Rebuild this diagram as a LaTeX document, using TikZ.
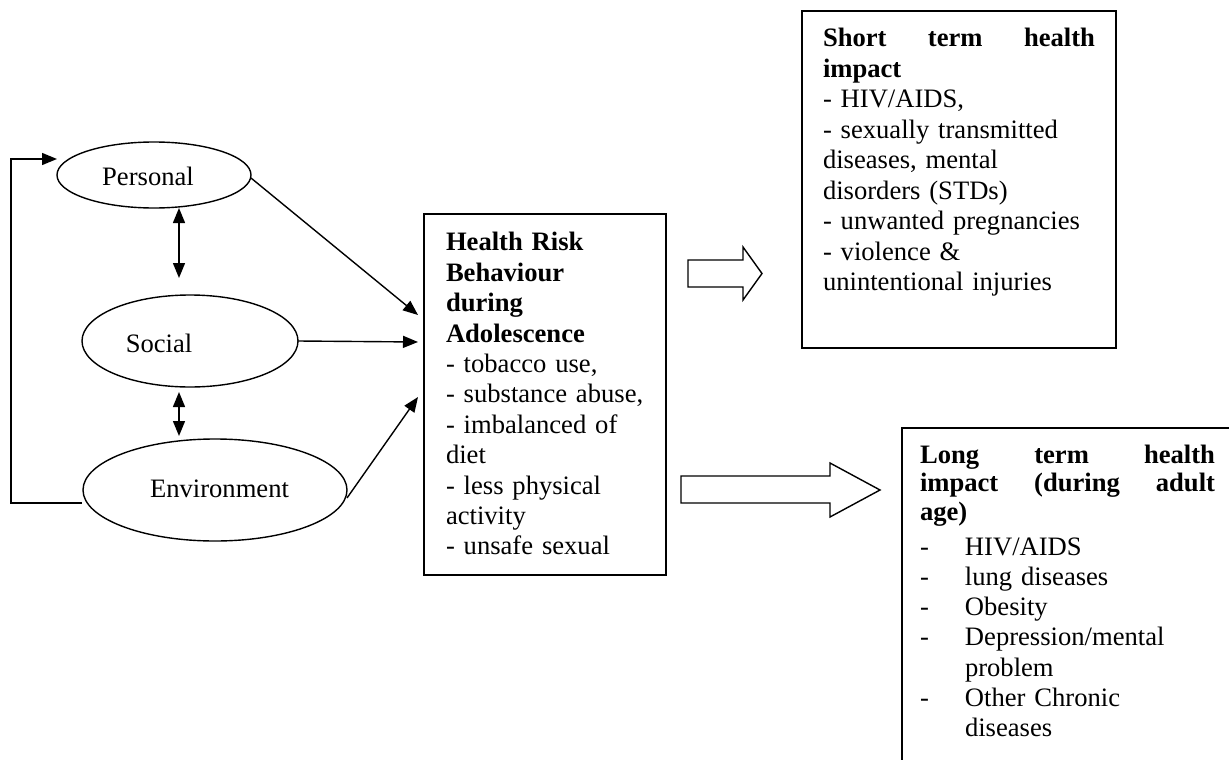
\documentclass[tikz,border=0pt]{standalone}
\usepackage{fontspec}
\setmainfont{Liberation Serif}
\usetikzlibrary{arrows.meta,shapes.geometric}
\begin{document}
\begin{tikzpicture}[x=1pt,y=-1pt,
  every node/.style={inner sep=0pt,outer sep=0pt},
  ell/.style={draw,ellipse,line width=1.4pt},
  box/.style={draw,rectangle,line width=1.4pt,anchor=north west},
  lbl/.style={font=\fontsize{26.6}{30.5}\selectfont},
  para/.style={anchor=north west,align=left,text width=#1},
  arr/.style={line width=1.4pt,-{Triangle[length=15pt,width=12pt]}},
  dbl/.style={line width=1.4pt,{Triangle[length=15pt,width=12pt]}-{Triangle[length=15pt,width=12pt]}},
  blockarrow/.style={draw,line width=1.4pt,fill=white}]
\clip (0,0) rectangle (1229,760);
\fill[white] (0,0) rectangle (1229,760);

% ellipses
\node[ell,minimum width=194pt,minimum height=66pt] (personal) at (154,175) {};
\node[ell,minimum width=216pt,minimum height=92pt] (social) at (190,341) {};
\node[ell,minimum width=264pt,minimum height=102pt] (env) at (215,490) {};
\node[lbl,anchor=base] (tpers) at (148,185) {Personal};
\node[lbl,anchor=base] (tsoc) at (159,352) {Social};
\node[lbl,anchor=base] (tenv) at (219.5,497) {Environment};

% boxes
\node[box,minimum width=242pt,minimum height=361pt] (hrb) at (424,214) {};
\node[box,minimum width=314pt,minimum height=337pt] (short) at (802,11) {};
\node[box,minimum width=340pt,minimum height=360pt] (long) at (902,428) {};

% box texts
\node[para=215pt,font=\fontsize{26.6}{30.4}\selectfont] (thrb) at (446,229.7) {\noindent\strut\textbf{Health Risk}\\
\textbf{Behaviour}\\
\textbf{during}\\
\textbf{Adolescence}\\
- tobacco use,\\
- substance abuse,\\
- imbalanced of\\
diet\\
- less physical\\
activity\\
- unsafe sexual};

\node[para=272pt,font=\fontsize{26.6}{30.5}\selectfont] (tshort) at (823,25.65) {\noindent\leavevmode\hbox to\hsize{\strut\bfseries Short\hfill term\hfill health}\\
\textbf{impact}\\
- HIV/AIDS,\\
- sexually transmitted\\
diseases, mental\\
disorders (STDs)\\
- unwanted pregnancies\\
- violence \&\\
unintentional injuries};

\node[para=295pt,font=\fontsize{26.6}{28.5}\selectfont\bfseries] (tlonghead) at (920,443.05) {\noindent\leavevmode\hbox to\hsize{\strut Long\hfill term\hfill health}\\
\leavevmode\hbox to\hsize{impact\hfill (during\hfill adult}\\
age)};

\node[para=295pt,font=\fontsize{26.6}{30.3}\selectfont] (tlonglist) at (920,533.8) {\noindent\strut\makebox[45pt][l]{-}HIV/AIDS\\
\makebox[45pt][l]{-}lung diseases\\
\makebox[45pt][l]{-}Obesity\\
\makebox[45pt][l]{-}Depression/mental\\
\hspace*{45pt}problem\\
\makebox[45pt][l]{-}Other Chronic\\
\hspace*{45pt}diseases};

% connector end points
\coordinate (px) at (179,0);
\coordinate (t1) at (418,315);
\coordinate (t2) at (418,342);
\coordinate (t3) at (418,397);
\coordinate (e1) at (251,178);
\coordinate (e3) at (347,498);
\coordinate (loopstart) at (82,503);
\coordinate (loopend) at (57,159);

% connectors
\draw[dbl] (personal.south -| px) -- ([yshift=17pt]social.north -| px);
\draw[dbl] ([yshift=-5pt]social.south -| px) -- ([yshift=3pt]env.north -| px);
\draw[arr] (e1) -- (t1);
\draw[arr] (social.east) -- (t2);
\draw[arr] (e3) -- (t3);
\draw[arr] (loopstart) -- (11,503) -- (11,159) -- (loopend);

% block arrows
\draw[blockarrow] (688,260) -- (743,260) -- (743,247) -- (762,273.5) -- (743,300) -- (743,287) -- (688,287) -- cycle;
\draw[blockarrow] (681,476) -- (830,476) -- (830,463) -- (880,490) -- (830,517) -- (830,503) -- (681,503) -- cycle;
\end{tikzpicture}
\end{document}
